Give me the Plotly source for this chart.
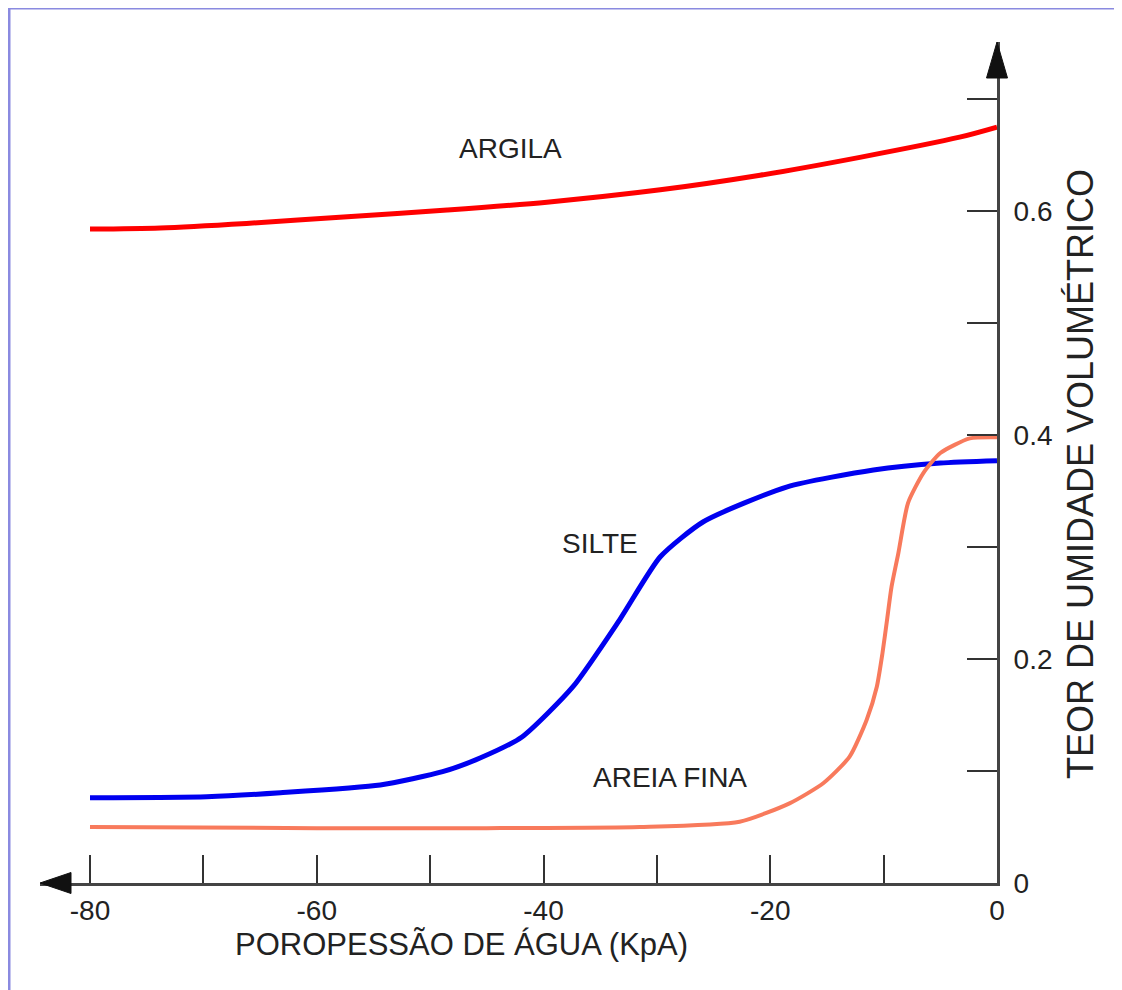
import plotly.graph_objects as go

# ---- data ----
argila_x = [-80, -73.8, -66.2, -57.3, -48.5, -39.7, -29.7, -20.9, -12.1, -3.3, 0]
argila_y = [0.584, 0.585, 0.589, 0.595, 0.601, 0.608, 0.619, 0.632, 0.648, 0.666, 0.675]

silte_x = [-80, -69.7, -63.2, -54.4, -48.9, -45.6, -41.9, -37.4, -33.3, -29.7, -25.9, -18.5, -10.9, -5.0, 0]
silte_y = [0.0762, 0.0771, 0.0806, 0.0875, 0.0994, 0.1116, 0.1304, 0.1753, 0.2348, 0.2913, 0.3226, 0.3538, 0.3688, 0.375, 0.3771]

areia_x = [-80, -60, -45, -31.5, -22.7, -18.3, -15.3, -13.0, -11.5, -10.6, -10.1, -9.7, -9.3, -8.7, -7.85, -6.5, -5.0, -2.4, 0]
areia_y = [0.050, 0.049, 0.049, 0.050, 0.0547, 0.0711, 0.0893, 0.1128, 0.1455, 0.1753, 0.2054, 0.2348, 0.2646, 0.2946, 0.3393, 0.366, 0.384, 0.397, 0.398]

x_ticks = [-80, -70, -60, -50, -40, -30, -20, -10, 0]
x_ticklabels = ["-80", "", "-60", "", "-40", "", "-20", "", "0"]
y_ticks = [0, 0.1, 0.2, 0.3, 0.4, 0.5, 0.6, 0.7]
y_ticklabels = ["0", "", "0.2", "", "0.4", "", "0.6", ""]

series_labels = ["ARGILA", "SILTE", "AREIA FINA"]
label_x = [-42.95, -35.0, -28.84]
label_y = [0.656, 0.3036, 0.0946]

x_title = "POROPESSÃO DE ÁGUA (KpA)"
y_title = "TEOR DE UMIDADE VOLUMÉTRICO"

X_MIN, X_MAX = -84.41, 0
Y_MIN, Y_MAX = 0, 0.751

FONT = "Liberation Sans, Arial, sans-serif"
TXT = "#222222"
AX = "#444444"

# page body has an 8px margin; plot area placed so that it lands where the reference has it
ML, MT = 32, 34
PW, PH = 957, 841
W, H = 1122, 990

fig = go.Figure()
fig.add_trace(go.Scatter(x=argila_x, y=argila_y, mode="lines",
                         line=dict(color="#ff0000", width=5, shape="spline", smoothing=0.8),
                         name="ARGILA", hoverinfo="skip"))
fig.add_trace(go.Scatter(x=silte_x, y=silte_y, mode="lines",
                         line=dict(color="#0000f0", width=5, shape="spline", smoothing=0.6),
                         name="SILTE", hoverinfo="skip"))
fig.add_trace(go.Scatter(x=areia_x, y=areia_y, mode="lines",
                         line=dict(color="#f87a5c", width=4, shape="spline", smoothing=0.6),
                         name="AREIA FINA", hoverinfo="skip"))

for t, xx, yy in zip(series_labels, label_x, label_y):
    fig.add_annotation(x=xx, y=yy, xref="x", yref="y", text=t, showarrow=False,
                       font=dict(family=FONT, size=28, color=TXT),
                       xanchor="center", yanchor="middle")

fig.add_annotation(x=0.440, y=-0.0737, xref="paper", yref="paper", text=x_title,
                   showarrow=False, font=dict(family=FONT, size=31, color=TXT),
                   xanchor="center", yanchor="middle")
fig.add_annotation(x=1.0867, y=0.4863, xref="paper", yref="paper", text=y_title,
                   showarrow=False, textangle=-90, font=dict(family=FONT, size=36, color=TXT),
                   xanchor="center", yanchor="middle")

# arrowheads on axes (paper refs so they are not clipped)
fig.add_shape(type="path", xref="paper", yref="paper", xsizemode="pixel", ysizemode="pixel",
              xanchor=1, yanchor=1, path="M 0 0 L -10.5 -36 L 10.5 -36 Z",
              fillcolor="#111111", line=dict(color="#111111", width=1))
fig.add_shape(type="path", xref="paper", yref="paper", xsizemode="pixel", ysizemode="pixel",
              xanchor=0, yanchor=0, path="M 0 0 L 31 10.5 L 31 -10.5 Z",
              fillcolor="#111111", line=dict(color="#111111", width=1))

# image frame (top and left edges)
fx0 = (1 - ML) / PW
fy1 = (MT + PH - 0) / PH
fig.add_shape(type="line", xref="paper", yref="paper", x0=fx0, x1=1.3, y0=fy1, y1=fy1,
              line=dict(color="#8a8ae0", width=3))
fig.add_shape(type="line", xref="paper", yref="paper", x0=fx0, x1=fx0, y0=-0.2, y1=fy1,
              line=dict(color="#8a8ae0", width=3))

fig.update_layout(
    width=W, height=H,
    margin=dict(l=ML, r=W - ML - PW, t=MT, b=H - MT - PH),
    paper_bgcolor="white", plot_bgcolor="white",
    showlegend=False,
    xaxis=dict(range=[X_MIN, X_MAX], showgrid=False, zeroline=False,
               showline=True, linecolor=AX, linewidth=3,
               ticks="inside", ticklen=28, tickwidth=2, tickcolor="#333333",
               tickvals=x_ticks, ticktext=x_ticklabels,
               tickfont=dict(family=FONT, size=28, color=TXT)),
    yaxis=dict(range=[Y_MIN, Y_MAX], side="right", showgrid=False, zeroline=False,
               showline=True, linecolor=AX, linewidth=3,
               ticks="inside", ticklen=30, tickwidth=2, tickcolor="#333333",
               tickvals=y_ticks, ticktext=y_ticklabels,
               ticklabelstandoff=8,
               tickfont=dict(family=FONT, size=28, color=TXT)),
)

fig.write_html("out.html")
